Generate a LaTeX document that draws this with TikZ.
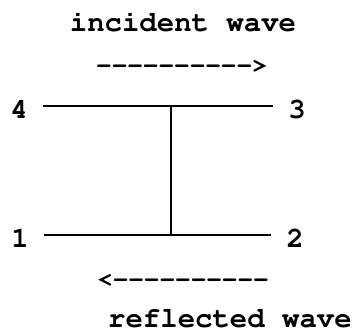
\documentclass[tikz,border=0pt]{standalone}
\usepackage[T1]{fontenc}
\usepackage{courier}
\usetikzlibrary{positioning}

\newcommand{\dashrun}{-{}-{}-{}-{}-{}-{}-{}-{}-{}-}

\begin{document}
\begin{tikzpicture}[x=1pt, y=-1pt,
  every node/.style={font=\ttfamily\bfseries\fontsize{29}{31}\selectfont, inner sep=0pt},
  term/.style={inner xsep=15pt, inner ysep=0pt, text height=25pt, text depth=0pt},
  waveflow/.style={font=\ttfamily\bfseries\fontsize{26}{28}\selectfont},
  wire/.style={line width=2pt}]
\useasboundingbox (0,0) rectangle (357,334);
% wave labels
\node[anchor=base] (incident) at (183,32) {incident wave};
\node[waveflow] (incarrow) at (182,67) {\dashrun>};
\node[waveflow] (refarrow) at (183,281) {<\dashrun};
\node[anchor=base] (reflected) at (230,328) {reflected wave};
% terminals
\node[term] (n4) at (19,106) {4};
\node[term] (n3) at (297,106) {3};
\node[term] (n1) at (20,235) {1};
\node[term] (n2) at (295,235) {2};
% lines
\draw[wire] (n4) -- node[coordinate, pos=0.556] (tjoin) {} (n3);
\draw[wire] (n1) -- node[coordinate, pos=0.556] (bjoin) {} (n2);
\draw[wire] (tjoin) -- (tjoin |- bjoin);
\end{tikzpicture}
\end{document}
